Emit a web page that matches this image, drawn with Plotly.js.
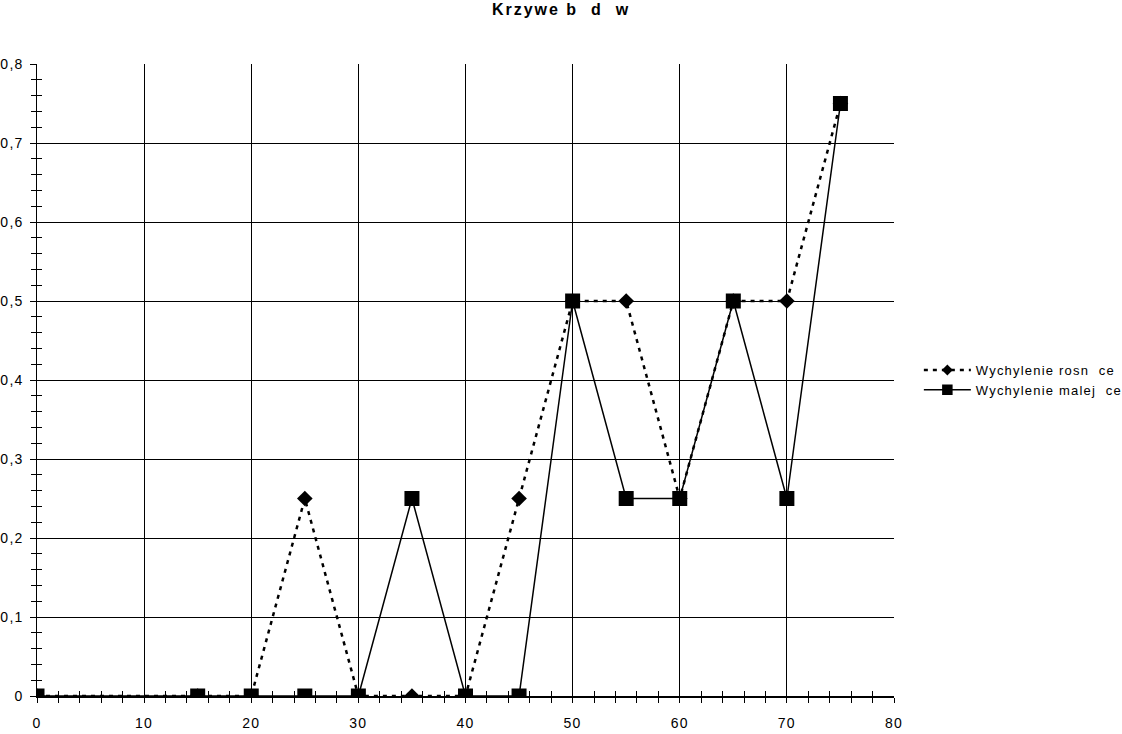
<!DOCTYPE html>
<html>
<head>
<meta charset="utf-8">
<script src="https://cdn.plot.ly/plotly-3.0.1.min.js"></script>
<style>
html,body{margin:0;padding:0;background:#fff;}
#chart{width:1122px;height:734px;}
.gtitle{letter-spacing:2px;}
.xtick text,.ytick text{letter-spacing:1.3px;}
.legendtext{letter-spacing:1.2px;}
</style>
</head>
<body>
<div id="chart"></div>
<script>
const xValues = [0, 15, 20, 25, 30, 35, 40, 45, 50, 55, 60, 65, 70, 75];
const rising = [0, 0, 0, 0.25, 0, 0, 0, 0.25, 0.5, 0.5, 0.25, 0.5, 0.5, 0.75];
const falling = [0, 0, 0, 0, 0, 0.25, 0, 0, 0.5, 0.25, 0.25, 0.5, 0.25, 0.75];
const seriesNames = ["Wychylenie rosn  ce", "Wychylenie malej  ce"];
const chartTitle = "Krzywe b  d  w";

const fam = "Liberation Sans, Arial, sans-serif";
const tickFont = {family: fam, size: 14, color: "#000"};
const legendFont = {family: fam, size: 13, color: "#000"};

const traces = [
  {
    x: xValues, y: rising, name: seriesNames[0], type: "scatter", mode: "lines+markers",
    line: {color: "#000", width: 2.5, dash: "4px,5px"},
    marker: {symbol: "diamond", size: 12, color: "#000"}
  },
  {
    x: xValues, y: falling, name: seriesNames[1], type: "scatter", mode: "lines+markers",
    line: {color: "#000", width: 1.5},
    marker: {symbol: "square", size: 15, color: "#000"}
  },
  {
    x: [0], y: [0], xaxis: "x2", yaxis: "y2", showlegend: false, mode: "markers",
    marker: {opacity: 0}, hoverinfo: "skip"
  }
];

const layout = {
  width: 1122, height: 734,
  paper_bgcolor: "#fff", plot_bgcolor: "#fff",
  font: tickFont,
  separators: ", ",
  margin: {l: 37, r: 228, t: 64, b: 38, autoexpand: false},
  title: {text: "<b>" + chartTitle + "</b>", x: 0.5, xref: "container", y: 0.995, yanchor: "top",
          pad: {t: 0, b: 0},
          font: {family: fam, size: 16, color: "#000"}},
  xaxis: {
    range: [0, 80], dtick: 10, tick0: 0, showgrid: true, gridcolor: "#000", gridwidth: 1,
    zeroline: false, showline: true, linecolor: "#000", linewidth: 1.5,
    ticks: "outside", ticklen: 5, tickcolor: "#000", ticklabelstandoff: 9,
    minor: {dtick: 2, ticks: "outside", ticklen: 5, tickcolor: "#000", showgrid: false},
    tickfont: tickFont, fixedrange: true, automargin: false
  },
  yaxis: {
    range: [0, 0.8], dtick: 0.1, tick0: 0, showgrid: true, gridcolor: "#000", gridwidth: 1,
    zeroline: false, showline: true, linecolor: "#000", linewidth: 1.5,
    ticks: "outside", ticklen: 6, tickcolor: "#000", ticklabelstandoff: 3,
    minor: {dtick: 0.02, ticks: "outside", ticklen: 5, tickcolor: "#000", showgrid: false},
    tickfont: tickFont, fixedrange: true, automargin: false
  },
  xaxis2: {
    overlaying: "x", anchor: "y2", range: [0, 80], showgrid: false, zeroline: false,
    showticklabels: false, ticks: "", dtick: 10,
    minor: {dtick: 2, ticks: "inside", ticklen: 5, tickcolor: "#000", showgrid: false},
    fixedrange: true
  },
  yaxis2: {
    overlaying: "y", anchor: "x2", range: [0, 0.8], showgrid: false, zeroline: false,
    showticklabels: false, ticks: "", dtick: 0.1,
    minor: {dtick: 0.02, ticks: "inside", ticklen: 5, tickcolor: "#000", showgrid: false},
    fixedrange: true
  },
  legend: {x: 1.029, xanchor: "left", y: 0.5, yanchor: "middle", font: legendFont,
           bgcolor: "rgba(0,0,0,0)", tracegroupgap: 0, itemwidth: 47},
  showlegend: true,
  hovermode: false
};

Plotly.newPlot("chart", traces, layout, {staticPlot: true, displayModeBar: false}).then(function () {
  document.querySelectorAll(".legend .legendpoints path.scatterpts").forEach(function (p) {
    const t = p.getAttribute("transform") || "";
    p.setAttribute("transform", t + " scale(0.7)");
  });
});
</script>
</body>
</html>
